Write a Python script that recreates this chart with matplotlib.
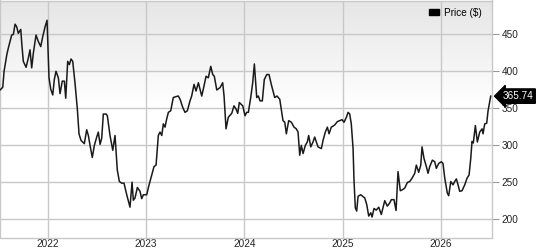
import numpy as np
import matplotlib
matplotlib.use("Agg")
from matplotlib import pyplot as plt
from matplotlib import transforms
from matplotlib.patches import Patch

# weekly-ish closing prices, time in decimal years
years = [
    2021.517, 2021.545, 2021.558, 2021.586, 2021.602, 2021.636, 2021.653, 2021.670,
    2021.687, 2021.703, 2021.728, 2021.738, 2021.754, 2021.782, 2021.805, 2021.822,
    2021.839, 2021.856, 2021.883, 2021.907, 2021.931, 2021.951, 2021.975, 2021.995,
    2022.015, 2022.033, 2022.053, 2022.069, 2022.086, 2022.110, 2022.127, 2022.150,
    2022.171, 2022.185, 2022.205, 2022.222, 2022.239, 2022.256, 2022.279, 2022.303,
    2022.320, 2022.340, 2022.374, 2022.398, 2022.415, 2022.432, 2022.455, 2022.476,
    2022.500, 2022.516, 2022.534, 2022.551, 2022.567, 2022.595, 2022.608, 2022.635,
    2022.663, 2022.686, 2022.709, 2022.730, 2022.754, 2022.777, 2022.805, 2022.838,
    2022.859, 2022.872, 2022.889, 2022.913, 2022.940, 2022.957, 2022.974, 2023.008,
    2023.028, 2023.059, 2023.082, 2023.103, 2023.126, 2023.143, 2023.161, 2023.177,
    2023.194, 2023.211, 2023.228, 2023.252, 2023.278, 2023.306, 2023.329, 2023.347,
    2023.374, 2023.397, 2023.421, 2023.448, 2023.465, 2023.489, 2023.509, 2023.533,
    2023.567, 2023.590, 2023.611, 2023.634, 2023.659, 2023.679, 2023.695, 2023.720,
    2023.753, 2023.780, 2023.794, 2023.814, 2023.837, 2023.872, 2023.895, 2023.916,
    2023.933, 2023.949, 2023.984, 2024.007, 2024.024, 2024.041, 2024.065, 2024.085,
    2024.102, 2024.126, 2024.142, 2024.160, 2024.183, 2024.203, 2024.228, 2024.251,
    2024.274, 2024.309, 2024.332, 2024.360, 2024.393, 2024.411, 2024.427, 2024.451,
    2024.478, 2024.505, 2024.528, 2024.546, 2024.563, 2024.579, 2024.597, 2024.620,
    2024.640, 2024.654, 2024.675, 2024.698, 2024.715, 2024.749, 2024.783, 2024.800,
    2024.823, 2024.844, 2024.861, 2024.884, 2024.901, 2024.919, 2024.945, 2024.970,
    2024.993, 2025.013, 2025.037, 2025.054, 2025.071, 2025.087, 2025.105, 2025.115,
    2025.128, 2025.142, 2025.156, 2025.183, 2025.224, 2025.244, 2025.264, 2025.285,
    2025.298, 2025.318, 2025.341, 2025.366, 2025.392, 2025.427, 2025.453, 2025.478,
    2025.494, 2025.521, 2025.542, 2025.562, 2025.585, 2025.606, 2025.630, 2025.657,
    2025.681, 2025.704, 2025.732, 2025.748, 2025.772, 2025.793, 2025.806, 2025.826,
    2025.850, 2025.867, 2025.884, 2025.911, 2025.935, 2025.951, 2025.976, 2026.002,
    2026.019, 2026.037, 2026.063, 2026.077, 2026.098, 2026.121, 2026.138, 2026.155,
    2026.172, 2026.189, 2026.212, 2026.240, 2026.263, 2026.284, 2026.301, 2026.314,
    2026.327, 2026.348, 2026.368, 2026.392, 2026.416, 2026.426, 2026.443, 2026.463,
    2026.477, 2026.504,
]
prices = [
    374.0, 377.6, 399.0, 421.6, 431.0, 448.3, 449.2, 463.0,
    459.4, 450.6, 455.9, 437.2, 412.7, 404.7, 417.2, 428.3,
    403.9, 423.9, 448.3, 439.4, 432.7, 446.0, 459.4, 468.3,
    390.5, 374.9, 367.3, 388.2, 399.3, 390.5, 369.1, 386.0,
    386.0, 362.9, 412.7, 408.3, 415.9, 412.7, 383.8, 348.2,
    314.8, 305.9, 301.5, 320.2, 312.5, 299.2, 282.8, 299.2,
    310.4, 317.1, 300.5, 309.1, 341.5, 341.5, 339.2, 312.5,
    292.5, 312.5, 265.8, 250.3, 248.1, 248.1, 232.4, 215.6,
    249.4, 225.0, 228.0, 242.3, 237.0, 227.1, 232.4, 232.4,
    243.7, 259.1, 270.4, 272.5, 312.5, 317.1, 312.5, 328.2,
    323.8, 334.8, 343.8, 345.9, 363.8, 365.1, 365.9, 361.5,
    350.5, 343.8, 345.9, 359.3, 365.9, 381.6, 372.6, 383.8,
    365.9, 379.3, 392.6, 390.5, 406.0, 394.9, 392.6, 374.0,
    377.2, 383.8, 365.9, 321.5, 337.1, 342.4, 352.6, 348.2,
    342.4, 357.1, 352.6, 339.2, 343.8, 343.8, 363.8, 383.8,
    409.2, 363.8, 365.9, 359.3, 359.3, 388.2, 394.9, 394.9,
    381.6, 363.8, 365.9, 361.5, 332.6, 330.4, 314.8, 332.6,
    330.4, 323.8, 321.5, 317.1, 285.8, 299.2, 288.1, 299.2,
    303.7, 312.5, 297.1, 303.7, 310.4, 297.1, 294.8, 305.9,
    317.1, 323.8, 314.8, 323.8, 325.1, 326.8, 331.2, 332.6,
    333.9, 330.4, 337.1, 343.8, 341.5, 328.2, 294.8, 250.3,
    214.7, 210.3, 230.3, 232.4, 228.0, 219.1, 203.6, 208.0,
    202.3, 213.8, 211.6, 215.6, 205.7, 224.4, 217.0, 221.4,
    225.8, 225.8, 211.1, 263.7, 237.8, 239.1, 241.4, 249.0,
    250.3, 254.7, 261.4, 272.5, 262.7, 272.5, 297.1, 281.4,
    270.4, 261.4, 270.4, 279.2, 277.0, 268.1, 274.8, 277.0,
    274.8, 254.7, 234.7, 231.1, 250.3, 245.8, 250.3, 253.8,
    245.8, 237.0, 237.8, 245.8, 254.7, 259.1, 281.4, 304.5,
    302.4, 325.9, 303.7, 317.1, 321.5, 314.8, 328.2, 329.1,
    345.9, 365.74,
]
year_ticks = [2022, 2023, 2024, 2025, 2026]
price_ticks = [200, 250, 300, 350, 400, 450]
legend_label = "Price ($)"

plt.rcParams['font.family'] = ['Liberation Sans', 'DejaVu Sans']

x0, x1 = 2021.517, 2026.517
y0, y1 = 174.6, 495

fig = plt.figure(figsize=(5.38, 2.5), dpi=100)
ax = fig.add_axes([0.0, 0.05, 0.9145, 0.948])

# gray-to-white gradient background (top of plot is gray)
frac = np.linspace(0, 1, 256)  # bottom -> top
shade = np.clip((frac - 0.55) / 0.45, 0, 1)
vals = (1.0 - 0.10 * shade)[:, None]
rgb = np.dstack([vals, vals, vals])
ax.imshow(rgb, extent=[x0, x1, y0, y1], origin='lower', aspect='auto',
          zorder=0, interpolation='bilinear')

ax.plot(years, prices, color='#1a1a1a', lw=1.1, zorder=3)

ax.set_xlim(x0, x1)
ax.set_ylim(y0, y1)
ax.set_xticks(year_ticks)
ax.set_xticklabels([str(y) for y in year_ticks])
ax.set_yticks(price_ticks)
ax.yaxis.tick_right()
ax.grid(color='#c8c8c8', lw=1.0, zorder=1)
ax.tick_params(axis='x', length=0, labelsize=7.2, pad=1.0, colors='#222222')
ax.tick_params(axis='y', length=5, width=0.8, color='#999999', labelsize=7.2,
               pad=2, labelcolor='#222222')
for s in ax.spines.values():
    s.set_color('#c8c8c8')
    s.set_linewidth(1.0)

ax.legend(handles=[Patch(color='black', label=legend_label)], loc='upper right',
          frameon=False, fontsize=7.2, handlelength=1.0, handleheight=0.5,
          handletextpad=0.5, borderaxespad=0.3, bbox_to_anchor=(0.993, 1.0))

trans = transforms.blended_transform_factory(ax.transAxes, ax.transData)
ax.text(1.021, prices[-1], f"{prices[-1]:.2f}", transform=trans, ha='left',
        va='center', color='white', fontsize=7.2, zorder=5, clip_on=False,
        bbox=dict(boxstyle='larrow,pad=0.22', fc='black', ec='black'))

fig.savefig("out.png", dpi=100)
